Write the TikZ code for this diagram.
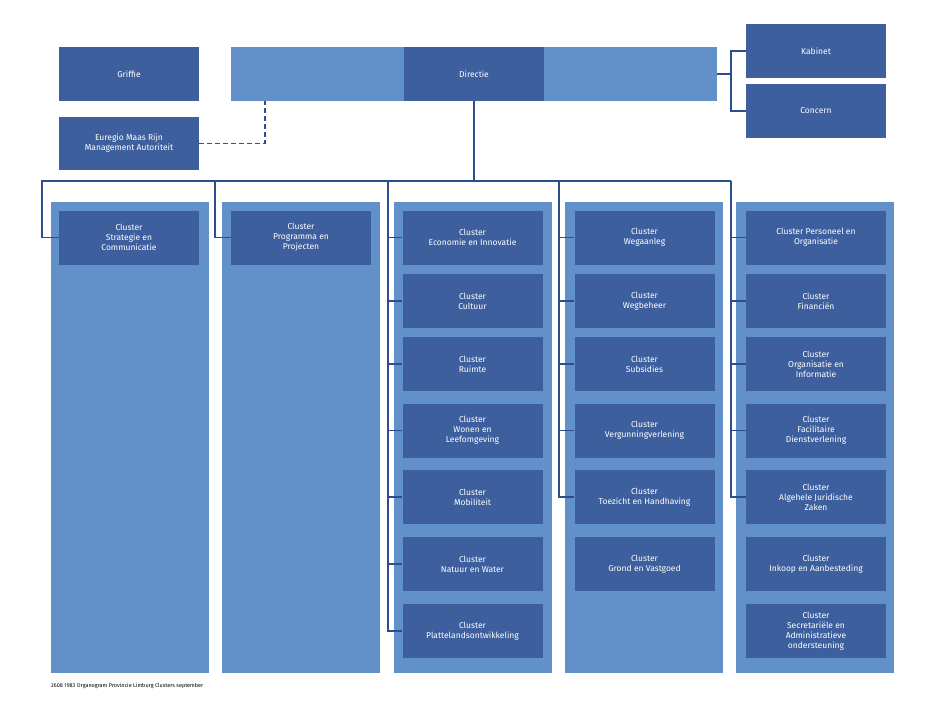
\documentclass[tikz,border=0pt]{standalone}
\usepackage{fontspec}
\setmainfont{Fira Sans}
\begin{document}
\begin{tikzpicture}[x=1pt,y=-1pt,
  dark/.style={fill=dk,draw=none,text=white,minimum width=140pt,minimum height=54pt,inner sep=1pt,align=center,font=\fontsize{8.5}{10}\selectfont},
  col/.style={fill=lt,draw=none},
  ln/.style={draw=ln,line width=1.3pt}]
\definecolor{dk}{HTML}{3D5F9E}
\definecolor{lt}{HTML}{6290C8}
\definecolor{ln}{HTML}{2D4E8C}
\useasboundingbox (0,0) rectangle (940,705);
% columns
\foreach \a/\b in {51/209,222/380,394/552,565/723,736/894}{\fill[lt] (\a,202) rectangle (\b,673);}
% top
\fill[lt] (231,47) rectangle (717,101);
\node[dark] (dir) at (474,74) {Directie};
\node[dark] (grif) at (129,74) {Griffie};
\node[dark] (kab) at (816,51) {Kabinet};
\node[dark] (con) at (816,111) {Concern};
\node[dark,minimum height=53pt] (eur) at (129,143.5) {Euregio Maas Rijn\\Management Autoriteit};
\coordinate (barR) at (717,74);
\coordinate (dashc) at (265,101);
\draw[ln] (barR) -- (731,74);
\draw[ln] (kab.west) -| (731,74) |- (con.west);
\draw[ln,dash pattern=on 5pt off 3pt] (eur.east) -| (dashc);
% columns content
\def\yy{{237.5,301,364,430.5,497,564,631}}
\node[dark] (c1) at (129,237.5) {Cluster\\Strategie en\\Communicatie};
\node[dark] (c2) at (301,237.5) {Cluster\\Programma en\\Projecten};
\foreach \t [count=\i] in {{Cluster\\Economie en Innovatie},{Cluster\\Cultuur},{Cluster\\Ruimte},{Cluster\\Wonen en\\Leefomgeving},{Cluster\\Mobiliteit},{Cluster\\Natuur en Water},{Cluster\\Plattelandsontwikkeling}}{
  \pgfmathsetmacro\y{\yy[\i-1]}
  \node[dark] (e\i) at (472.5,\y) {\t};}
\foreach \t [count=\i] in {{Cluster\\Wegaanleg},{Cluster\\Wegbeheer},{Cluster\\Subsidies},{Cluster\\Vergunningverlening},{Cluster\\Toezicht en Handhaving},{Cluster\\Grond en Vastgoed}}{
  \pgfmathsetmacro\y{\yy[\i-1]}
  \node[dark] (w\i) at (644.5,\y) {\t};}
\foreach \t [count=\i] in {{Cluster Personeel en\\Organisatie},{Cluster\\Financiën},{Cluster\\Organisatie en\\Informatie},{Cluster\\Facilitaire\\Dienstverlening},{Cluster\\Algehele Juridische\\Zaken},{Cluster\\Inkoop en Aanbesteding},{Cluster\\Secretariële en\\Administratieve\\ondersteuning}}{
  \pgfmathsetmacro\y{\yy[\i-1]}
  \node[dark] (p\i) at (816,\y) {\t};}
% connectors
\coordinate (hub) at (474,181);
\draw[ln] (dir.south) -- (hub);
\draw[ln] (42,181) -- (731,181);
\draw[ln] (hub) -| (42,237.5) -- (c1.west);
\draw[ln] (215,181) |- (c2.west);
\draw[ln] (388,181) |- (e7.west);
\foreach \i in {1,...,6}{\draw[ln] (388,\yy[\i-1]) -- (e\i.west);}
\draw[ln] (559,181) |- (w5.west);
\foreach \i in {1,...,4}{\draw[ln] (559,\yy[\i-1]) -- (w\i.west);}
\draw[ln] (731,181) |- (p5.west);
\foreach \i in {1,...,4}{\draw[ln] (731,\yy[\i-1]) -- (p\i.west);}
\node[anchor=west,inner sep=0,font=\fontsize{5.5}{6}\selectfont] (foot) at (51,686) {2608 1983 Organogram Provincie Limburg Clusters september};
\end{tikzpicture}
\end{document}
